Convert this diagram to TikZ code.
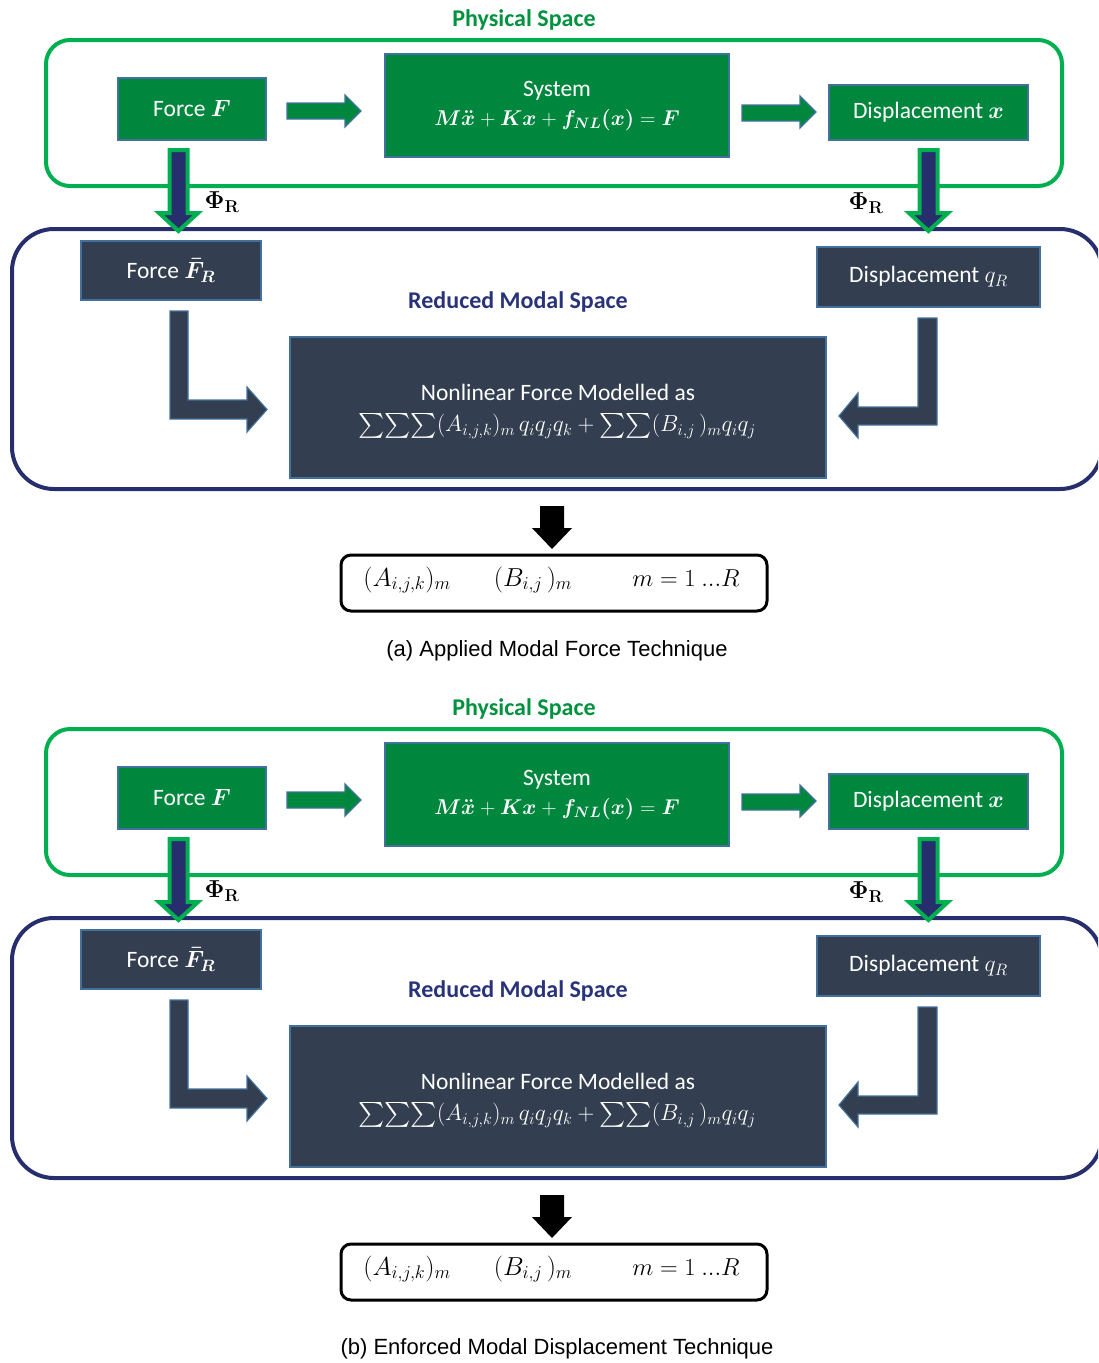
\RequirePackage{fix-cm}
\documentclass[tikz,border=0pt]{standalone}
\usepackage{amsmath,bm}
\usepackage[no-math]{fontspec}
\setmainfont{Carlito}
\newfontfamily\capfont{Liberation Sans}
\definecolor{gfill}{HTML}{00873E}
\definecolor{gline}{HTML}{00B050}
\definecolor{gtext}{HTML}{00923F}
\definecolor{nfill}{HTML}{333F50}
\definecolor{navy}{HTML}{262E6E}
\definecolor{ntext}{HTML}{28337A}
\definecolor{bord}{HTML}{41719C}
\tikzset{
  x=1pt, y=-1pt,
  boxbase/.style={draw=bord, line width=1.2pt, text=white, inner sep=0pt, align=center,
                  font=\fontsize{23.5}{30}\selectfont},
  gbox/.style={boxbase, fill=gfill},
  nbox/.style={boxbase, fill=nfill},
  intext/.style={text=white, inner sep=0pt, font=\fontsize{23.5}{30}\selectfont},
  garrow/.style={draw=bord, line width=1.2pt, fill=gfill, line join=miter},
  narrow/.style={draw=bord, line width=1.2pt, fill=nfill, line join=miter},
  darrow/.style={draw=gline, line width=4pt, fill=navy, line join=miter},
  gframe/.style={draw=gline, line width=4pt, rounded corners=24pt},
  nframe/.style={draw=navy, line width=4pt, rounded corners=42pt},
  gtitle/.style={text=gtext, font=\fontsize{24}{28}\selectfont\bfseries, inner sep=0pt},
  ntitle/.style={text=ntext, font=\fontsize{24}{28}\selectfont\bfseries, inner sep=0pt},
  philabel/.style={font=\fontsize{24.5}{28}\selectfont, inner sep=0pt},
  rbox/.style={draw=black, line width=3pt, rounded corners=10pt, inner sep=0pt},
  rtext/.style={font=\fontsize{26}{30}\selectfont, inner sep=0pt},
  captext/.style={font=\capfont\fontsize{22}{26}\selectfont, inner sep=0pt},
}
\newcommand{\drawpanel}[4]{%
\begin{scope}[shift={(0,#2)}]
  % physical space
  \node[gtitle] (phys#1) at (524,20) {Physical Space};
  \draw[gframe] (46,40) rectangle (1062,186);
  \node[gbox, minimum width=148pt, minimum height=62pt] (force#1) at (192,109) {Force $\boldsymbol{F}$};
  \node[gbox, minimum width=344pt, minimum height=103pt] (sys#1) at (557,105.5) {};
  \node[intext] (syst#1) at (557,91) {System};
  \node[intext, font=\fontsize{21.4}{26}\selectfont] (syse#1) at (557,120)
     {$\boldsymbol{M\ddot{x}} + \boldsymbol{Kx} + \boldsymbol{f_{NL}(x)} = \boldsymbol{F}$};
  \node[gbox, minimum width=199pt, minimum height=55pt] (disp#1) at (928.5,112.5) {Displacement $\boldsymbol{x}$};
  \draw[garrow] (287,103) -- (345,103) -- (345,95) -- (361,111) -- (345,127) -- (345,119) -- (287,119) -- cycle;
  \draw[garrow] (742,105) -- (800,105) -- (800,96) -- (816,112) -- (800,128) -- (800,121) -- (742,121) -- cycle;
  % reduced modal space
  \draw[nframe] (12,229) rectangle (1102,489);
  \draw[darrow] (169.5,150) -- (187.5,150) -- (187.5,213) -- (198,213) -- (178.5,231) -- (159,213) -- (169.5,213) -- cycle;
  \draw[darrow] (919.5,150) -- (937.5,150) -- (937.5,213) -- (948,213) -- (928.5,231) -- (909,213) -- (919.5,213) -- cycle;
  \node[philabel] (phil#1) at (222,202) {$\boldsymbol{\Phi}_{\mathbf{R}}$};
  \node[philabel] (phir#1) at (866,203) {$\boldsymbol{\Phi}_{\mathbf{R}}$};
  \node[nbox, minimum width=180pt, minimum height=59pt] (forcer#1) at (171,270.5) {Force $\boldsymbol{\bar{F}_{R}}$};
  \node[nbox, minimum width=223pt, minimum height=60pt] (dispr#1) at (928.5,277) {Displacement $q_R$};
  \node[ntitle] (red#1) at (518,302) {Reduced Modal Space};
  \node[nbox, minimum width=536pt, minimum height=141pt] (nl#1) at (558,407.5) {};
  \node[intext] (nlt#1) at (558,392) {Nonlinear Force Modelled as};
  \node[intext, font=\fontsize{23.2}{26}\selectfont] (nle#1) at (557,426)
     {$\sum\!\sum\!\sum(A_{i,j,k})_m\, q_iq_jq_k + \sum\!\sum(B_{i,j}\,)_m q_iq_j$};
  \draw[narrow] (170,311) -- (188,311) -- (188,400) -- (247,400) -- (247,387) -- (267,409.5)
     -- (247,432) -- (247,419) -- (170,419) -- cycle;
  \draw[narrow] (937,318) -- (918,318) -- (918,407) -- (858,407) -- (858,393) -- (839,416)
     -- (858,438) -- (858,425) -- (937,425) -- cycle;
  % result
  \fill[black] (540,506) -- (564,506) -- (564,528) -- (572,528) -- (552,549) -- (532,528) -- (540,528) -- cycle;
  \node[rbox, minimum width=426pt, minimum height=56pt] (res#1) at (554,583) {};
  \node[rtext] (ra#1) at (407,580) {$(A_{i,j,k})_m$};
  \node[rtext] (rb#1) at (533,580) {$(B_{i,j}\,)_m$};
  \node[rtext, font=\fontsize{24.5}{28}\selectfont] (rc#1) at (686,578) {$m = 1\ ...R$};
  \node[captext] (cap#1) at (557,#3) {#4};
\end{scope}}
\begin{document}
\begin{tikzpicture}
\useasboundingbox (0,0) rectangle (1098,1363);
\clip (0,0) rectangle (1098,1363);
\drawpanel{a}{0}{651}{(a) Applied Modal Force Technique}
\drawpanel{b}{689}{660}{(b) Enforced Modal Displacement Technique}
\end{tikzpicture}
\end{document}
